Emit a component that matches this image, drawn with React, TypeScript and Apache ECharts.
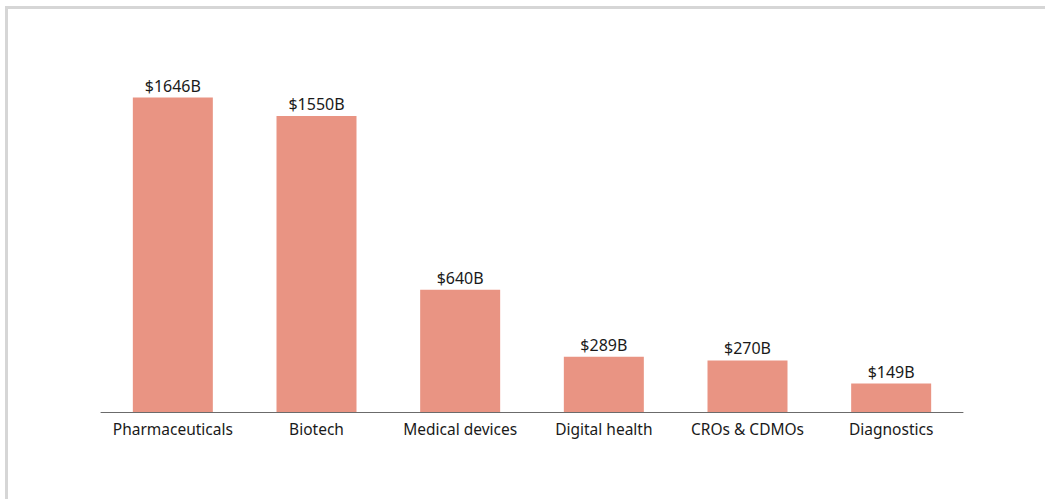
import React, { useEffect, useRef } from "react";
import * as echarts from "echarts";

const categories = ["Pharmaceuticals", "Biotech", "Medical devices", "Digital health", "CROs & CDMOs", "Diagnostics"];
const values = [1646, 1550, 640, 289, 270, 149];

export default function App() {
  const ref = useRef<HTMLDivElement>(null);
  useEffect(() => {
    if (!ref.current) return;
    const chart = echarts.init(ref.current, null, { renderer: "svg" });
    const font = "'Noto Sans', 'Open Sans', sans-serif";
    chart.setOption({
      animation: false,
      backgroundColor: "#ffffff",
      graphic: [
        {
          type: "rect",
          shape: { x: 6.5, y: 7.5, width: 1200, height: 700 },
          style: { fill: "none", stroke: "#d6d6d6", lineWidth: 3 },
          silent: true,
        },
      ],
      grid: { left: 101, right: 82, top: 30, bottom: 87 },
      xAxis: {
        type: "category",
        data: categories,
        axisLine: { show: true, lineStyle: { color: "#6b6b6b", width: 1 } },
        axisTick: { show: false },
        axisLabel: { color: "#1a1a1a", fontSize: 15.5, fontFamily: font, margin: 9, interval: 0 },
      },
      yAxis: {
        type: "value",
        min: 0,
        max: 2000,
        show: false,
        splitLine: { show: false },
      },
      series: [
        {
          type: "bar",
          data: values,
          barWidth: 80,
          itemStyle: { color: "#e99483" },
          label: {
            show: true,
            position: "top",
            distance: 4,
            formatter: (p: any) => "$" + p.value + "B",
            color: "#1a1a1a",
            fontSize: 16,
            fontFamily: font,
          },
        },
      ],
    });
    return () => chart.dispose();
  }, []);
  return (
    <div
      ref={ref}
      style={{ position: "absolute", left: 0, top: 0, width: 1045, height: 499 }}
    />
  );
}
